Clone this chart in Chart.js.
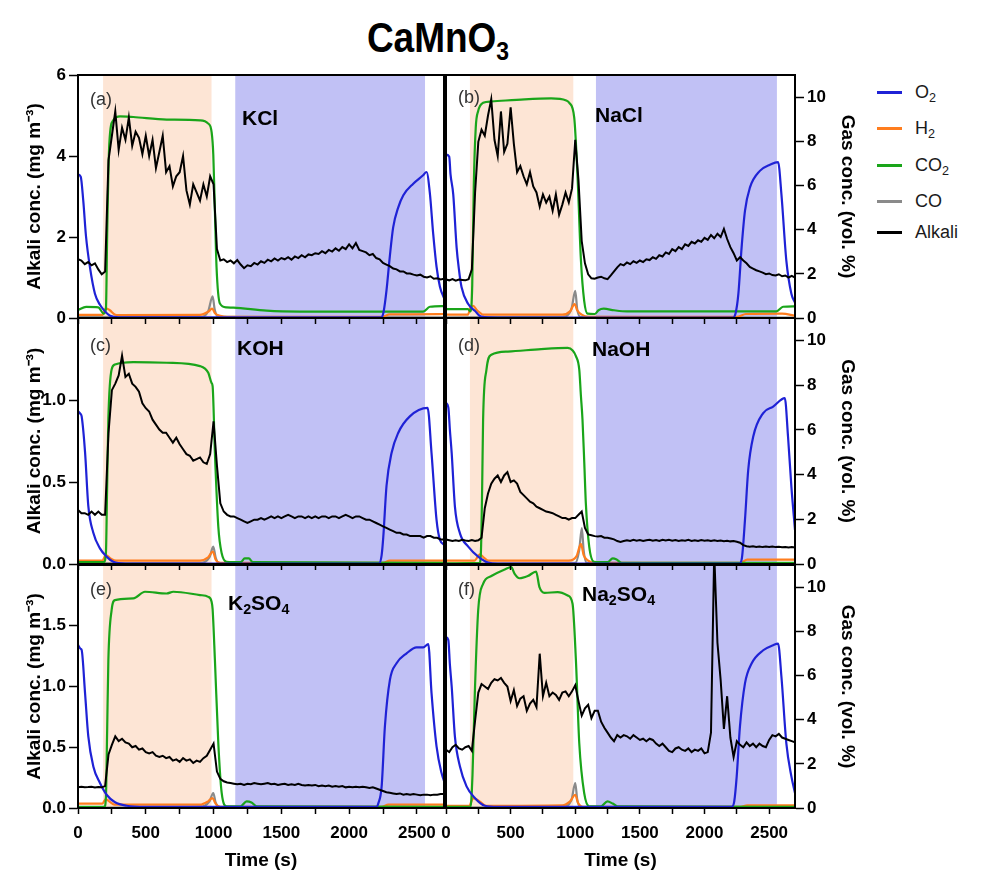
<!DOCTYPE html>
<html><head><meta charset="utf-8">
<script src="https://cdn.jsdelivr.net/npm/chart.js@4.4.1/dist/chart.umd.min.js"></script>
<style>
body{margin:0;background:#fff;width:989px;height:872px;position:relative;overflow:hidden;font-family:'Liberation Sans',Arial,Helvetica,sans-serif;color:#000;}
canvas{position:absolute;}
.t{position:absolute;line-height:1;white-space:nowrap;}
.t sub{font-size:0.68em;vertical-align:-0.28em;line-height:0;}
.pl{font-size:18px;color:#333;}
.nm{font-size:21px;font-weight:bold;}
.lg{position:absolute;left:915px;font-size:18px;line-height:18px;color:#1a1a1a;white-space:nowrap;}
.lg sub{font-size:0.7em;vertical-align:-0.3em;line-height:0;}
.sw{position:absolute;left:877px;width:25px;height:3px;}
#title{position:absolute;left:438px;top:16px;font-size:43px;font-weight:bold;line-height:1;transform:translateX(-50%) scaleX(0.86);white-space:nowrap;}
#title sub{font-size:0.62em;vertical-align:-0.3em;line-height:0;}
</style></head><body>
<div id="title">CaMnO<sub>3</sub></div>

<canvas id="cA" width="452" height="266" style="left:0;top:60px;z-index:3"></canvas>
<canvas id="cB" width="450" height="266" style="left:420px;top:60px;z-index:4"></canvas>
<canvas id="cC" width="452" height="262" style="left:0;top:310px;z-index:2"></canvas>
<canvas id="cD" width="450" height="262" style="left:420px;top:310px;z-index:2"></canvas>
<canvas id="cE" width="452" height="315" style="left:0;top:557px;z-index:1"></canvas>
<canvas id="cF" width="450" height="315" style="left:420px;top:557px;z-index:1"></canvas>

<div class="t pl" style="left:90px;top:90px;z-index:9">(a)</div>
<div class="t nm" style="left:242px;top:107px;z-index:9">KCl</div>
<div class="t pl" style="left:458px;top:88px;z-index:9">(b)</div>
<div class="t nm" style="left:595px;top:104px;z-index:9">NaCl</div>
<div class="t pl" style="left:90px;top:336px;z-index:9">(c)</div>
<div class="t nm" style="left:237px;top:337px;z-index:9">KOH</div>
<div class="t pl" style="left:458px;top:336px;z-index:9">(d)</div>
<div class="t nm" style="left:592px;top:338px;z-index:9">NaOH</div>
<div class="t pl" style="left:90px;top:580px;z-index:9">(e)</div>
<div class="t nm" style="left:228px;top:592px;z-index:9">K<sub>2</sub>SO<sub>4</sub></div>
<div class="t pl" style="left:458px;top:580px;z-index:9">(f)</div>
<div class="t nm" style="left:582px;top:583px;z-index:9">Na<sub>2</sub>SO<sub>4</sub></div>

<div class="sw" style="top:91px;background:#1f22d6"></div><div class="lg" style="top:83px">O<sub>2</sub></div>
<div class="sw" style="top:127px;background:#ff7d1e"></div><div class="lg" style="top:119px">H<sub>2</sub></div>
<div class="sw" style="top:164px;background:#1aa51a"></div><div class="lg" style="top:156px">CO<sub>2</sub></div>
<div class="sw" style="top:200px;background:#8a8a8a"></div><div class="lg" style="top:192px">CO</div>
<div class="sw" style="top:231px;background:#000"></div><div class="lg" style="top:223px">Alkali</div>

<script>
// ---------- DATA ----------
const alkaliTime = [
 0,25,50,75,100,125,150,175,200,225,
 250,275,300,325,350,375,400,425,450,475,
 500,525,550,575,600,625,650,675,700,725,
 750,775,800,825,850,875,900,925,950,975,
 1000,1025,1050,1075,1100,1125,1150,1175,1200,1225,
 1250,1275,1300,1325,1350,1375,1400,1425,1450,1475,
 1500,1525,1550,1575,1600,1625,1650,1675,1700,1725,
 1750,1775,1800,1825,1850,1875,1900,1925,1950,1975,
 2000,2025,2050,2075,2100,2125,2150,2175,2200,2225,
 2250,2275,2300,2325,2350,2375,2400,2425,2450,2475,
 2500,2525,2550,2575,2600,2625,2650,2675,2700];

const alkaliKCl = [
 1.45,1.42,1.33,1.38,1.30,1.35,1.20,1.08,1.15,3.9,
 4.5,5.1,4.15,4.7,4.4,4.95,4.25,4.6,4.45,4.05,
 4.5,4.0,4.4,3.7,4.1,4.5,3.6,3.75,3.25,3.5,
 3.6,4.0,3.15,2.8,3.3,3.1,2.9,3.3,3.0,3.5,
 3.3,1.7,1.42,1.45,1.38,1.42,1.35,1.43,1.32,1.23,
 1.3,1.28,1.36,1.32,1.4,1.36,1.44,1.4,1.47,1.42,
 1.48,1.45,1.5,1.44,1.52,1.48,1.55,1.5,1.57,1.55,
 1.6,1.58,1.65,1.6,1.68,1.64,1.72,1.66,1.75,1.7,
 1.82,1.72,1.85,1.68,1.65,1.62,1.55,1.58,1.48,1.45,
 1.36,1.32,1.28,1.22,1.2,1.15,1.15,1.1,1.1,1.07,
 1.05,1.07,1.02,1.0,1.03,0.97,0.98,0.95,0.97];
const alkaliNaCl = [
 0.95,0.93,0.96,0.92,0.95,0.94,0.93,0.96,1.2,3.1,
 4.35,4.65,4.5,5.0,5.4,4.4,4.0,5.1,4.1,4.3,
 5.2,4.3,3.6,3.75,3.5,3.3,3.6,3.25,3.1,2.75,
 3.05,2.85,3.0,2.65,3.05,2.55,2.8,3.1,2.85,3.2,
 4.4,3.4,1.9,1.35,1.08,0.98,0.97,1.0,1.02,0.98,
 0.96,1.05,1.15,1.25,1.33,1.3,1.37,1.33,1.4,1.36,
 1.42,1.38,1.45,1.43,1.5,1.46,1.55,1.52,1.62,1.58,
 1.7,1.65,1.75,1.7,1.82,1.78,1.88,1.84,1.92,1.88,
 1.98,1.93,2.05,1.97,2.08,2.0,2.2,1.95,1.75,1.6,
 1.42,1.5,1.42,1.35,1.26,1.22,1.18,1.15,1.12,1.08,
 1.1,1.06,1.05,1.08,1.03,1.05,1.0,1.04,1.0];
const alkaliKOH = [
 0.33,0.31,0.31,0.30,0.32,0.30,0.32,0.30,0.30,0.80,
 1.06,1.10,1.15,1.27,1.14,1.16,1.10,1.08,1.05,0.98,
 0.95,0.93,0.88,0.85,0.82,0.80,0.80,0.77,0.74,0.77,
 0.73,0.70,0.67,0.66,0.63,0.64,0.65,0.62,0.61,0.67,
 0.87,0.60,0.37,0.32,0.30,0.29,0.29,0.28,0.27,0.26,
 0.25,0.26,0.27,0.27,0.28,0.27,0.28,0.29,0.28,0.29,
 0.28,0.29,0.30,0.29,0.28,0.29,0.29,0.28,0.29,0.28,
 0.29,0.28,0.29,0.29,0.28,0.29,0.29,0.28,0.29,0.30,
 0.29,0.28,0.29,0.29,0.28,0.27,0.27,0.26,0.25,0.24,
 0.23,0.22,0.21,0.20,0.19,0.19,0.18,0.18,0.17,0.17,
 0.17,0.17,0.16,0.17,0.17,0.16,0.16,0.15,0.15];
const alkaliNaOH = [
 0.15,0.145,0.14,0.145,0.14,0.147,0.143,0.14,0.146,0.14,
 0.145,0.16,0.34,0.43,0.49,0.52,0.54,0.50,0.54,0.56,
 0.50,0.51,0.49,0.44,0.42,0.40,0.38,0.37,0.35,0.34,
 0.33,0.32,0.315,0.31,0.30,0.29,0.28,0.28,0.27,0.28,
 0.28,0.30,0.32,0.22,0.18,0.175,0.17,0.168,0.17,0.16,
 0.16,0.155,0.15,0.14,0.135,0.14,0.145,0.14,0.147,0.142,
 0.146,0.14,0.145,0.148,0.142,0.146,0.14,0.148,0.143,0.147,
 0.142,0.146,0.14,0.145,0.142,0.147,0.141,0.145,0.14,0.146,
 0.142,0.145,0.14,0.144,0.14,0.143,0.139,0.142,0.138,0.14,
 0.136,0.13,0.115,0.108,0.105,0.108,0.104,0.107,0.103,0.106,
 0.104,0.107,0.103,0.105,0.102,0.104,0.1,0.103,0.1];
const alkaliK2SO4 = [
 0.17,0.175,0.17,0.172,0.175,0.168,0.172,0.17,0.18,0.44,
 0.52,0.59,0.55,0.57,0.54,0.53,0.50,0.51,0.48,0.49,
 0.46,0.45,0.46,0.43,0.42,0.43,0.41,0.42,0.39,0.40,
 0.38,0.41,0.39,0.40,0.37,0.39,0.38,0.41,0.43,0.48,
 0.53,0.30,0.24,0.22,0.21,0.205,0.20,0.195,0.20,0.19,
 0.20,0.195,0.205,0.20,0.195,0.20,0.205,0.195,0.20,0.19,
 0.195,0.20,0.19,0.195,0.19,0.20,0.19,0.185,0.19,0.185,
 0.19,0.18,0.185,0.18,0.185,0.175,0.18,0.175,0.18,0.17,
 0.175,0.17,0.175,0.17,0.175,0.17,0.165,0.17,0.16,0.15,
 0.14,0.13,0.125,0.12,0.115,0.12,0.11,0.115,0.11,0.115,
 0.11,0.105,0.11,0.11,0.105,0.11,0.11,0.115,0.115];
const alkaliNa2SO4 = [
 0.48,0.46,0.50,0.52,0.49,0.48,0.50,0.51,0.47,0.72,
 0.95,1.02,1.00,0.98,1.03,1.06,1.05,1.07,1.03,1.00,
 0.88,0.97,0.84,0.90,0.92,0.80,0.86,0.89,0.83,1.27,
 0.92,1.03,0.92,0.95,0.93,0.89,0.95,0.96,0.92,0.96,
 1.01,0.88,0.76,0.82,0.85,0.74,0.80,0.80,0.71,0.66,
 0.62,0.58,0.55,0.60,0.58,0.60,0.59,0.57,0.60,0.58,
 0.56,0.57,0.55,0.57,0.56,0.53,0.51,0.53,0.50,0.47,
 0.46,0.49,0.50,0.48,0.47,0.49,0.46,0.48,0.47,0.49,
 0.45,0.46,0.62,2.1,1.36,1.05,0.65,0.92,0.58,0.42,
 0.55,0.52,0.50,0.54,0.51,0.53,0.50,0.53,0.51,0.50,
 0.56,0.60,0.59,0.61,0.58,0.57,0.56,0.55,0.54];

// gas concentrations (vol. %) as [time s, value]
const o2KCl = [[0,6.5],[20,6.4],[39,5.3],[59,3.7],[88,2.3],[125,1.1],[162,0.6],[199,0.3],[236,0.1],[300,0.03],[2240,0.03],[2255,0.3],[2276,1.26],[2300,2.77],[2325,4.1],[2362,5.0],[2400,5.56],[2473,6.08],[2546,6.46],[2571,6.61],[2596,5.63],[2620,3.83],[2645,2.32],[2670,1.42],[2706,0.81]];
const h2KCl = [[0,0.14],[180,0.14],[205,0.44],[235,0.35],[270,0.16],[300,0.13],[900,0.14],[960,0.28],[990,0.42],[1010,0.22],[1050,0.1],[1100,0.05],[2240,0.05],[2300,0.16],[2700,0.18]];
const co2KCl = [[0,0.36],[60,0.5],[150,0.48],[190,0.2],[206,0.4],[216,4.1],[231,7.9],[260,8.95],[310,9.13],[408,9.1],[654,8.98],[900,8.95],[961,8.8],[986,8.4],[998,7.4],[1010,4.85],[1022,2.3],[1047,0.66],[1096,0.48],[1146,0.47],[1391,0.33],[1637,0.29],[2546,0.29],[2596,0.51],[2700,0.54]];
const coKCl = [[0,0.04],[900,0.05],[960,0.3],[993,0.98],[1008,0.4],[1035,0.05],[2700,0.03]];

const o2NaCl = [[0,7.4],[25,7.3],[35,6.5],[56,5.6],[82,3.2],[100,2.2],[120,1.4],[172,0.63],[223,0.33],[274,0.06],[400,0.02],[2220,0.02],[2240,0.2],[2262,1.1],[2287,3.2],[2313,4.85],[2351,5.9],[2428,6.66],[2510,6.95],[2569,7.06],[2595,5.6],[2633,2.6],[2672,1.1],[2700,0.7]];
const h2NaCl = [[0,0.15],[170,0.15],[190,0.5],[210,0.55],[240,0.35],[290,0.15],[900,0.15],[960,0.3],[995,0.63],[1015,0.35],[1050,0.15],[1100,0.05],[2250,0.05],[2320,0.18],[2600,0.2],[2700,0.1]];
const co2NaCl = [[0,0.4],[170,0.4],[190,0.3],[203,1.5],[215,6.0],[230,8.6],[249,9.37],[287,9.74],[351,9.8],[608,9.9],[813,9.94],[930,9.85],[954,9.74],[992,9.07],[1018,6.36],[1044,2.6],[1069,0.78],[1095,0.2],[1150,0.18],[1180,0.35],[1220,0.42],[1300,0.35],[1400,0.3],[2556,0.3],[2608,0.51],[2700,0.53]];
const coNaCl = [[0,0.03],[900,0.05],[970,0.4],[1000,1.23],[1015,0.4],[1040,0.05],[2700,0.02]];

const o2KOH = [[0,6.83],[20,6.7],[27,6.6],[52,5.0],[76,2.6],[113,1.4],[162,0.7],[211,0.33],[260,0.1],[350,0.02],[2220,0.02],[2240,0.4],[2252,1.2],[2276,3.5],[2313,4.96],[2362,5.86],[2448,6.6],[2579,6.98],[2608,4.96],[2645,1.97],[2670,1.08],[2706,0.85]];
const h2KOH = [[0,0.15],[180,0.15],[205,0.4],[240,0.25],[280,0.15],[900,0.15],[960,0.3],[995,0.55],[1015,0.2],[1050,0.05],[2250,0.05],[2300,0.15],[2700,0.15]];
const co2KOH = [[0,0.08],[190,0.08],[206,0.5],[215,3.5],[224,6.5],[248,8.7],[273,8.92],[408,9.03],[654,9.0],[900,8.85],[961,8.55],[985,8.1],[993,7.95],[1010,4.96],[1035,1.67],[1060,0.48],[1096,0.1],[1200,0.08],[1230,0.25],[1260,0.25],[1290,0.08],[2700,0.05]];
const coKOH = [[0,0.03],[900,0.05],[970,0.3],[998,0.78],[1015,0.3],[1040,0.03],[2700,0.02]];

const o2NaOH = [[0,7.2],[18,7.0],[30,6.0],[44,4.96],[69,2.57],[108,1.37],[172,0.78],[249,0.33],[326,0.06],[400,0.02],[2270,0.02],[2290,0.3],[2313,1.97],[2338,4.2],[2377,5.7],[2454,6.75],[2531,7.04],[2621,7.42],[2646,5.7],[2672,3.46],[2700,1.52]];
const h2NaOH = [[0,0.15],[220,0.15],[262,0.43],[290,0.3],[330,0.15],[950,0.15],[1010,0.35],[1044,0.9],[1065,0.4],[1100,0.15],[1150,0.05],[2280,0.05],[2330,0.2],[2700,0.2]];
const co2NaOH = [[0,0.03],[260,0.05],[270,0.5],[280,3.5],[287,6.45],[313,8.69],[351,9.36],[479,9.5],[736,9.61],[941,9.66],[980,9.55],[1005,9.3],[1031,8.69],[1044,7.5],[1056,6.45],[1070,4.5],[1082,2.7],[1108,0.78],[1146,0.1],[1250,0.08],[1290,0.25],[1320,0.2],[1360,0.05],[2700,0.05]];
const coNaOH = [[0,0.02],[1000,0.05],[1030,0.6],[1051,1.6],[1065,0.6],[1090,0.05],[2700,0.02]];

const o2K2SO4 = [[0,7.38],[20,7.2],[27,7.15],[52,5.2],[76,3.24],[113,1.88],[162,1.13],[211,0.6],[273,0.26],[359,0.1],[500,0.05],[2200,0.05],[2215,0.2],[2240,0.98],[2264,3.69],[2301,5.8],[2350,6.55],[2424,7.0],[2498,7.27],[2547,7.27],[2584,7.42],[2608,5.2],[2645,2.79],[2682,1.58],[2706,1.13]];
const h2K2SO4 = [[0,0.2],[180,0.2],[205,0.4],[230,0.3],[270,0.15],[900,0.15],[960,0.3],[992,0.45],[1015,0.2],[1050,0.05],[2240,0.05],[2290,0.15],[2700,0.15]];
const co2K2SO4 = [[0,0.05],[195,0.05],[206,0.5],[215,3.5],[224,6.7],[248,8.96],[273,9.41],[408,9.49],[494,9.79],[654,9.71],[703,9.79],[900,9.64],[961,9.56],[985,9.35],[993,9.0],[1010,6.7],[1035,2.94],[1060,0.68],[1096,0.08],[1200,0.08],[1244,0.3],[1280,0.25],[1318,0.08],[2700,0.05]];
const coK2SO4 = [[0,0.02],[900,0.05],[970,0.3],[998,0.68],[1015,0.25],[1040,0.03],[2700,0.02]];

const o2Na2SO4 = [[0,7.74],[18,7.6],[30,6.5],[44,5.5],[69,3.23],[108,1.88],[159,0.98],[223,0.45],[300,0.1],[400,0.05],[2210,0.05],[2230,0.3],[2249,1.43],[2274,3.68],[2313,5.64],[2364,6.54],[2454,7.14],[2531,7.37],[2569,7.44],[2595,5.94],[2633,2.93],[2672,1.43],[2700,0.68]];
const h2Na2SO4 = [[0,0.1],[180,0.1],[210,0.45],[260,0.3],[310,0.1],[900,0.12],[960,0.3],[1000,0.6],[1020,0.25],[1060,0.05],[2280,0.05],[2330,0.12],[2700,0.12]];
const co2Na2SO4 = [[0,0.05],[190,0.05],[205,1.5],[223,5.2],[249,8.95],[287,10.15],[351,10.5],[454,10.8],[505,10.9],[531,10.6],[569,10.4],[633,10.5],[697,10.7],[723,10.0],[762,9.74],[864,9.77],[941,9.62],[979,9.25],[1005,6.7],[1031,2.93],[1069,0.68],[1108,0.08],[1200,0.08],[1249,0.3],[1290,0.2],[1326,0.08],[2700,0.05]];
const coNa2SO4 = [[0,0.02],[900,0.05],[970,0.35],[1000,1.13],[1015,0.4],[1040,0.03],[2700,0.02]];

// phase windows (s)
const reductionPhase = [185, 985];
const oxidationPhase = [1160, 2560];

// axis ticks
const timeTicks = [0,250,500,750,1000,1250,1500,1750,2000,2250,2500];
const timeTickLabels = [0,500,1000,1500,2000,2500];
const gasTicks = [0,2,4,6,8,10];
const rowAlkaliTicks = [[0,2,4,6],[0,0.5,1.0],[0,0.5,1.0,1.5]];
const rowAlkaliMax = [6, 1.5, 2];
const rowAlkaliDecimals = [0,1,1];

// ---------- CHARTS ----------
Chart.defaults.font.family = "'Liberation Sans', Arial, Helvetica, sans-serif";
Chart.defaults.color = '#000';
const COL = {O2:'#1f22d6', H2:'#ff7d1e', CO2:'#1aa51a', CO:'#8a8a8a', Alkali:'#000000'};
const PEACH = '#fde5d5', LAV = '#c1c1f5';

const phasePlugin = {
  id:'phases',
  beforeDatasetsDraw(chart){
    const {ctx, chartArea:a, scales:{x}} = chart;
    ctx.save();
    [[reductionPhase, PEACH],[oxidationPhase, LAV]].forEach(([w,c])=>{
      const x0 = x.getPixelForValue(w[0]), x1 = x.getPixelForValue(w[1]);
      ctx.fillStyle = c;
      ctx.fillRect(x0, a.top, x1 - x0, a.bottom - a.top);
    });
    ctx.restore();
  }
};
const framePlugin = {
  id:'frame',
  afterDatasetsDraw(chart){
    const {ctx, chartArea:a} = chart;
    ctx.save();
    ctx.strokeStyle = '#000'; ctx.lineWidth = 2;
    ctx.strokeRect(a.left, a.top, a.right - a.left, a.bottom - a.top);
    ctx.restore();
  }
};

const toXY = arr => arr.map(([x,y]) => ({x, y}));
const tickFont = {size:17, weight:'bold'};
const titleFont = {size:19, weight:'bold'};

const panels = [
  {id:'cA', col:0, row:0, alk:alkaliKCl, o2:o2KCl, h2:h2KCl, co2:co2KCl, co:coKCl},
  {id:'cB', col:1, row:0, alk:alkaliNaCl, o2:o2NaCl, h2:h2NaCl, co2:co2NaCl, co:coNaCl},
  {id:'cC', col:0, row:1, alk:alkaliKOH, o2:o2KOH, h2:h2KOH, co2:co2KOH, co:coKOH},
  {id:'cD', col:1, row:1, alk:alkaliNaOH, o2:o2NaOH, h2:h2NaOH, co2:co2NaOH, co:coNaOH},
  {id:'cE', col:0, row:2, alk:alkaliK2SO4, o2:o2K2SO4, h2:h2K2SO4, co2:co2K2SO4, co:coK2SO4},
  {id:'cF', col:1, row:2, alk:alkaliNa2SO4, o2:o2Na2SO4, h2:h2Na2SO4, co2:co2Na2SO4, co:coNa2SO4}
];

panels.forEach(p => {
  const isLeft = p.col === 0, isBottom = p.row === 2, isTop = p.row === 0;
  const gasDs = (label, arr, color) => ({label, data: toXY(arr), yAxisID:'y1', borderColor:color,
      borderWidth:2.2, cubicInterpolationMode:'monotone', pointRadius:0, fill:false});
  new Chart(document.getElementById(p.id), {
    type:'line',
    data:{datasets:[
      {label:'Alkali', data: alkaliTime.map((t,i)=>({x:t, y:p.alk[i]})), yAxisID:'y',
        borderColor:COL.Alkali, borderWidth:2, tension:0, pointRadius:0, fill:false},
      gasDs('O2', p.o2, COL.O2),
      gasDs('CO2', p.co2, COL.CO2),
      gasDs('H2', p.h2, COL.H2),
      gasDs('CO', p.co, COL.CO)
    ]},
    options:{
      animation:false, responsive:false, devicePixelRatio:1,
      events:[],
      layout:{padding:{left: isLeft ? 0 : 26, right: isLeft ? 8 : 6, top: isTop ? 15 : 8, bottom:0}},
      plugins:{legend:{display:false}, tooltip:{enabled:false}},
      scales:{
        x:{type:'linear', min:0, max:2700,
          afterBuildTicks: s => { s.ticks = timeTicks.map(v => ({value:v})); },
          ticks:{autoSkip:false, maxRotation:0, padding:9, font:tickFont, color:'#000',
            callback: v => (isBottom && timeTickLabels.includes(v)) ? String(v) : ''},
          grid:{drawOnChartArea:false, drawTicks:true, tickLength:6, tickWidth:1.5, tickColor:'#000'},
          border:{display:true, color:'#000', width:2},
          title:{display:isBottom, text:'Time (s)', font:titleFont, color:'#000', padding:{top:0, bottom:0}},
          afterFit: s => { s.height = isBottom ? 64 : 8; s.paddingLeft = 0; s.paddingRight = 0; }
        },
        y:{display:isLeft, position:'left', min:0, max:rowAlkaliMax[p.row],
          afterBuildTicks: s => { s.ticks = rowAlkaliTicks[p.row].map(v => ({value:v})); },
          ticks:{padding:3, font:tickFont, color:'#000', callback: v => Number(v).toFixed(rowAlkaliDecimals[p.row])},
          grid:{drawOnChartArea:false, tickLength:9, tickWidth:1.5, tickColor:'#000'},
          border:{display:true, color:'#000', width:2},
          title:{display:true, text:'Alkali conc. (mg m⁻³)', font:titleFont, color:'#000', padding:{top:23, bottom:0}},
          afterFit: s => { if (isLeft) { s.width = 78; s.paddingTop = 0; s.paddingBottom = 0; } }
        },
        y1:{display:!isLeft, position:'right', min:0, max:11,
          afterBuildTicks: s => { s.ticks = gasTicks.map(v => ({value:v})); },
          ticks:{padding:3, font:tickFont, color:'#000', callback: v => String(v)},
          grid:{drawOnChartArea:false, tickLength:9, tickWidth:1.5, tickColor:'#000'},
          border:{display:true, color:'#000', width:2},
          title:{display:true, text:'Gas conc. (vol. %)', font:titleFont, color:'#000', padding:{top:5, bottom:0}},
          afterFit: s => { if (!isLeft) { s.width = 69; s.paddingTop = 0; s.paddingBottom = 0; } }
        }
      }
    },
    plugins:[phasePlugin, framePlugin]
  });
});
</script>
</body></html>
